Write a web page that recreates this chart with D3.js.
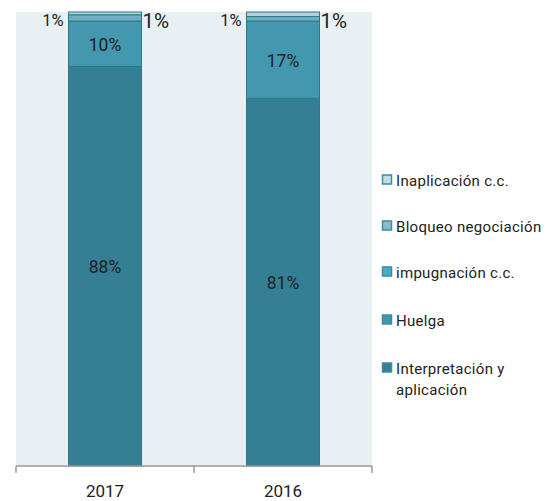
<!DOCTYPE html>
<html><head><meta charset="utf-8">
<script src="https://cdn.jsdelivr.net/npm/d3@7"></script>
<style>body{margin:0;background:#fff;} text{font-family:Roboto, "DejaVu Sans", sans-serif;}</style>
</head><body>
<svg id="c" width="550" height="501"></svg>
<script>
const years = ["2017", "2016"];
const seriesNames = ["Interpretación y aplicación", "Huelga", "impugnación c.c.", "Bloqueo negociación", "Inaplicación c.c."];
const interpretacion = [88, 81];
const huelga = [0, 0];
const impugnacion = [10, 17];
const bloqueo = [1.4, 1];
const inaplicacion = [0.6, 1];
const segColors = ["#357f94", "#3e90a6", "#4397ae", "#6fadbf", "#b0d3de"];
const legendColors = ["#357f94", "#3f96ad", "#4aaac6", "#88bccb", "#c0dde6"];

(function(){
const svg = d3.select("#c");
const pL = 16, pR = 372, pT = 12, pB = 466;

svg.append("rect").attr("x", pL).attr("y", pT).attr("width", pR-pL).attr("height", pB-pT).attr("fill", "#e8f0f3");

const x = d3.scaleBand().domain(years).range([pL, pR]).paddingInner(0.59).paddingOuter(0.295);
const y = d3.scaleLinear().domain([0, 100]).range([pB, pT]);

const table = years.map((yr, i) => ({year: yr, s0: interpretacion[i], s1: huelga[i], s2: impugnacion[i], s3: bloqueo[i], s4: inaplicacion[i]}));
const keys = ["s0","s1","s2","s3","s4"];
const stacked = d3.stack().keys(keys)(table);

stacked.forEach((layer, li) => {
  svg.append("g").selectAll("rect").data(layer).join("rect")
    .attr("x", d => x(d.data.year))
    .attr("width", x.bandwidth())
    .attr("y", d => y(d[1]))
    .attr("height", d => y(d[0]) - y(d[1]))
    .attr("fill", segColors[li])
    .attr("stroke", "#2f788c")
    .attr("stroke-width", 1);
});

[0, 2].forEach(li => {
  svg.append("g").selectAll("text").data(stacked[li]).join("text")
    .attr("x", d => x(d.data.year) + x.bandwidth()/2)
    .attr("y", d => (y(d[0]) + y(d[1]))/2 + 7)
    .attr("text-anchor", "middle")
    .attr("font-size", 17.5).attr("fill", "#222")
    .text(d => Math.round(d[1]-d[0]) + "%");
});
svg.append("g").selectAll("text").data(stacked[4]).join("text")
  .attr("x", d => x(d.data.year) - 5)
  .attr("y", 26)
  .attr("text-anchor", "end")
  .attr("font-size", 16.5).attr("fill", "#222")
  .text(d => Math.round(d[1]-d[0]) + "%");
svg.append("g").selectAll("text").data(stacked[3]).join("text")
  .attr("x", d => x(d.data.year) + x.bandwidth() + 1)
  .attr("y", 28)
  .attr("text-anchor", "start")
  .attr("font-size", 20.5).attr("fill", "#222")
  .text(d => Math.round(d[1]-d[0]) + "%");

const axisG = svg.append("g");
axisG.append("line").attr("x1", pL).attr("x2", pR).attr("y1", pB).attr("y2", pB).attr("stroke", "#999").attr("stroke-width", 1.5);
const tickPos = [pL].concat(years.map(yr => x(yr) + x.bandwidth()/2 + x.step()/2));
axisG.selectAll("line.t").data(tickPos).join("line").attr("class","t")
  .attr("x1", d => d).attr("x2", d => d).attr("y1", pB).attr("y2", pB + 7)
  .attr("stroke", "#999").attr("stroke-width", 1.5);
axisG.selectAll("text").data(years).join("text")
  .attr("x", d => x(d) + x.bandwidth()/2)
  .attr("y", 497)
  .attr("text-anchor", "middle")
  .attr("font-size", 17).attr("fill", "#222")
  .text(d => d);

const legendOrder = [4, 3, 2, 1, 0];
const legendY = [180, 226, 272, 320, 368];
const lg = svg.append("g");
legendOrder.forEach((si, i) => {
  lg.append("rect").attr("x", 382.5).attr("y", legendY[i] - 5).attr("width", 9).attr("height", 9)
    .attr("fill", legendColors[si]).attr("stroke", "#3d8ca2").attr("stroke-width", 1.5);
  const t = lg.append("text").attr("x", 396).attr("y", legendY[i] + 5.5).attr("font-size", 15)
    .attr("letter-spacing", 0.3).attr("fill", "#222");
  if (si === 0) {
    t.append("tspan").attr("x", 396).text("Interpretación y");
    t.append("tspan").attr("x", 396).attr("dy", 21).text("aplicación");
  } else {
    t.text(seriesNames[si]);
  }
});
})();
</script>
</body></html>
